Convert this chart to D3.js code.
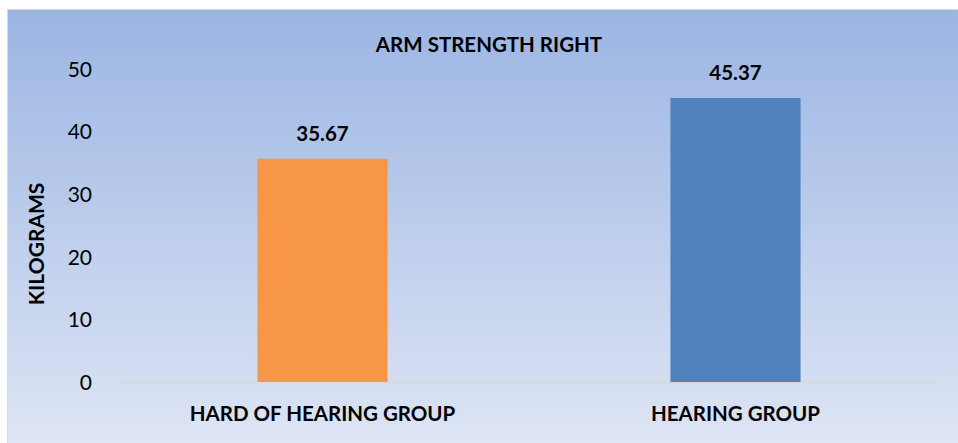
<!DOCTYPE html>
<html>
<head>
<meta charset="utf-8">
<script src="https://cdn.jsdelivr.net/npm/d3@7"></script>
<style>
  body { margin: 0; background: #fff; }
  svg text { font-family: Lato, "Open Sans", sans-serif; fill: #000; }
</style>
</head>
<body>
<svg id="container" width="958" height="443"></svg>
<script>
let width = 958,
    height = 443;

let categories = ["HARD OF HEARING GROUP", "HEARING GROUP"]
let values = [35.67, 45.37]
let barColors = ["#f79646", "#4f81bd"]
let yTicks = [0, 10, 20, 30, 40, 50]
let title = "ARM STRENGTH RIGHT"
let yTitle = "KILOGRAMS"

let svg = d3.select("#container")

// background gradient
let defs = svg.append("defs")
let grad = defs.append("linearGradient")
    .attr("id", "bg")
    .attr("x1", 0).attr("y1", 0)
    .attr("x2", 0).attr("y2", 1)
grad.append("stop").attr("offset", "0%").attr("stop-color", "#9bb5e3")
grad.append("stop").attr("offset", "100%").attr("stop-color", "#dfe6f5")

svg.append("rect")
    .attr("x", 7.5)
    .attr("y", 9.5)
    .attr("width", width)
    .attr("height", height)
    .attr("fill", "url(#bg)")
    .attr("stroke", "#d9d9d9")
    .attr("stroke-width", 1)

let margin = {left: 116, right: 16, top: 69, bottom: 61}

let xScale = d3.scaleBand()
    .domain(categories)
    .range([margin.left, width - margin.right])
    .paddingInner(0.685)
    .paddingOuter(0.3425)

let yScale = d3.scaleLinear()
    .domain([0, 50])
    .range([height - margin.bottom, margin.top])

// y tick labels (no axis line)
let yAxis = svg.append("g")
    .attr("transform", "translate(" + 92 + ",0)")
    .call(d3.axisLeft(yScale).tickValues(yTicks).tickSize(0).tickPadding(0))
yAxis.select(".domain").remove()
yAxis.selectAll("text")
    .attr("font-size", "21px")
    .attr("dy", "0.35em")
    .style("font-family", "Lato, sans-serif")
    .attr("fill", "#000")

// baseline
svg.append("line")
    .attr("x1", margin.left)
    .attr("x2", width - margin.right)
    .attr("y1", yScale(0) + 0.5)
    .attr("y2", yScale(0) + 0.5)
    .attr("stroke", "#d9d9d9")
    .attr("stroke-width", 2)

// bars
svg.append("g")
    .selectAll("rect")
    .data(values)
    .enter()
    .append("rect")
    .attr("x", (d, i) => xScale(categories[i]))
    .attr("y", d => yScale(d))
    .attr("width", xScale.bandwidth())
    .attr("height", d => yScale(0) - yScale(d))
    .attr("fill", (d, i) => barColors[i])

// value labels
svg.append("g")
    .selectAll("text")
    .data(values)
    .enter()
    .append("text")
    .attr("x", (d, i) => xScale(categories[i]) + xScale.bandwidth() / 2)
    .attr("y", d => yScale(d) - 18)
    .attr("text-anchor", "middle")
    .attr("font-size", "20.5px")
    .attr("font-weight", 700)
    .text(d => d.toFixed(2))

// category labels
svg.append("g")
    .selectAll("text")
    .data(categories)
    .enter()
    .append("text")
    .attr("x", d => xScale(d) + xScale.bandwidth() / 2)
    .attr("y", yScale(0) + 39)
    .attr("text-anchor", "middle")
    .attr("font-size", "20.5px")
    .attr("font-weight", 700)
    .text(d => d)

// title
svg.append("text")
    .attr("x", 489)
    .attr("y", 52)
    .attr("text-anchor", "middle")
    .attr("font-size", "20.5px")
    .attr("font-weight", 700)
    .text(title)

// y axis title
svg.append("text")
    .attr("transform", "translate(44," + 244 + ") rotate(-90)")
    .attr("text-anchor", "middle")
    .attr("font-size", "21px")
    .attr("font-weight", 700)
    .text(yTitle)
</script>
</body>
</html>
